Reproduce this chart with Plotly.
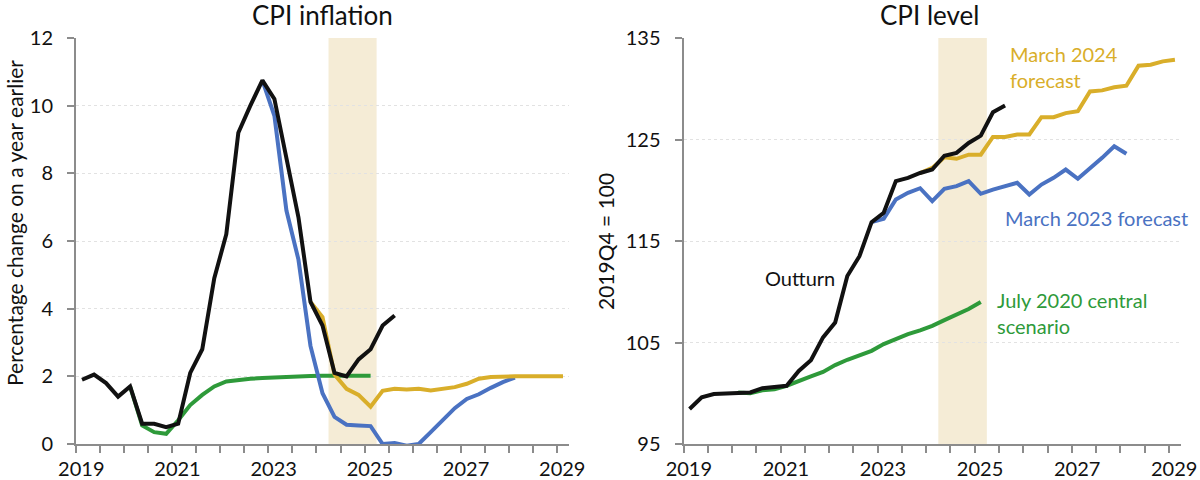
import plotly.graph_objects as go

# ---------------- data ----------------
# quarters run from 2019Q1; each series lists its first quarter and values
outturn_infl_start = "2019Q1"
outturn_infl = [1.9, 2.05, 1.8, 1.4, 1.7, 0.6, 0.6, 0.5, 0.6, 2.1, 2.8, 4.9,
                6.2, 9.2, 10.0, 10.75, 10.2, 8.4, 6.7, 4.2, 3.5, 2.1, 2.0, 2.5,
                2.8, 3.5, 3.8]

jul20_infl_start = "2020Q1"
jul20_infl = [1.7, 0.55, 0.35, 0.3, 0.7, 1.15, 1.45, 1.7, 1.85, 1.9, 1.93, 1.95,
              1.97, 1.98, 2.0, 2.01, 2.02, 2.02, 2.02, 2.02, 2.02]

mar23_infl_start = "2022Q4"
mar23_infl = [10.75, 9.7, 6.9, 5.45, 2.9, 1.5, 0.8, 0.57, 0.55, 0.53, 0.0, 0.03,
              -0.05, 0.0, 0.35, 0.7, 1.06, 1.33, 1.47, 1.66, 1.83, 1.96]

mar24_infl_start = "2023Q4"
mar24_infl = [4.2, 3.75, 2.05, 1.63, 1.45, 1.1, 1.57, 1.63, 1.61, 1.63, 1.58,
              1.63, 1.68, 1.78, 1.93, 1.98, 2.0, 2.0, 2.0, 2.0, 2.0, 2.0]

outturn_lvl_start = "2019Q1"
outturn_lvl = [98.45, 99.6, 99.92, 100.0, 100.08, 100.08, 100.5, 100.64, 100.74,
               102.2, 103.26, 105.5, 106.97, 111.55, 113.5, 116.86, 117.78,
               120.9, 121.22, 121.7, 122.04, 123.4, 123.68, 124.66, 125.38,
               127.68, 128.34]

jul20_lvl_start = "2020Q1"
jul20_lvl = [100.08, 100.0, 100.3, 100.4, 100.74, 101.23, 101.66, 102.1, 102.77,
             103.3, 103.76, 104.18, 104.84, 105.33, 105.82, 106.2, 106.64,
             107.2, 107.7, 108.3, 109.0]

mar23_lvl_start = "2022Q4"
mar23_lvl = [116.86, 117.2, 119.1, 119.75, 120.2, 118.92, 120.14, 120.4, 120.9,
             119.65, 120.07, 120.4, 120.73, 119.58, 120.56, 121.22, 122.04,
             121.13, 122.1, 123.19, 124.33, 123.6]

mar24_lvl_start = "2023Q4"
mar24_lvl = [121.7, 122.2, 123.25, 123.1, 123.5, 123.5, 125.25, 125.25, 125.5,
             125.5, 127.2, 127.2, 127.6, 127.78, 129.74, 129.84, 130.14, 130.3,
             132.27, 132.37, 132.7, 132.86]

year_labels = ["2019", "2021", "2023", "2025", "2027", "2029"]
infl_ticks = [0, 2, 4, 6, 8, 10, 12]
lvl_ticks = [95, 105, 115, 125, 135]
shade_period = ["2024Q2", "2025Q1"]   # shaded quarters (inclusive)

# ---------------- helpers ----------------
def q_to_x(q):
    y, n = q.split("Q")
    return int(y) + (int(n) - 0.5) / 4.0

def q_start(q):
    y, n = q.split("Q")
    return int(y) + (int(n) - 1) / 4.0

def xs(start, values):
    x0 = q_to_x(start)
    return [x0 + i * 0.25 for i in range(len(values))]

W, H = 1200, 480
MT, MB = 38, 36

def px_x(p):
    return p / W

def px_y(p):
    return (H - MB - p) / (H - MT - MB)

BLACK = "#111111"
BLUE = "#4a72c2"
GOLD = "#d9ae2a"
GREEN = "#2e9a3a"
SHADE = "#f5ecd6"
AXIS = "#8c8c8c"
FONT = "Lato"

fig = go.Figure()

series = [
    (jul20_infl_start, jul20_infl, GREEN, "x", "y"),
    (mar23_infl_start, mar23_infl, BLUE, "x", "y"),
    (mar24_infl_start, mar24_infl, GOLD, "x", "y"),
    (outturn_infl_start, outturn_infl, BLACK, "x", "y"),
    (jul20_lvl_start, jul20_lvl, GREEN, "x2", "y2"),
    (mar23_lvl_start, mar23_lvl, BLUE, "x2", "y2"),
    (mar24_lvl_start, mar24_lvl, GOLD, "x2", "y2"),
    (outturn_lvl_start, outturn_lvl, BLACK, "x2", "y2"),
]
for start, vals, col, xa, ya in series:
    fig.add_trace(go.Scatter(x=xs(start, vals), y=vals, mode="lines",
                             line=dict(color=col, width=4), xaxis=xa, yaxis=ya,
                             showlegend=False, hoverinfo="skip", cliponaxis=True))

x_lo, x_hi = 2019.0, 2029.25
half_years = [2019 + 0.5 * i for i in range(21)]
label_pos = [int(l) + 0.11 for l in year_labels]

shade_x0 = q_start(shade_period[0])
shade_x1 = q_start(shade_period[1]) + 0.25
for xr, yr in (("x", "y"), ("x2", "y2")):
    fig.add_shape(type="rect", xref=xr, yref=yr + " domain", x0=shade_x0, x1=shade_x1,
                  y0=0, y1=1, fillcolor=SHADE, line=dict(width=0), layer="below")

xaxis_common = dict(range=[x_lo, x_hi], tickvals=label_pos, ticktext=year_labels,
                    ticks="", showgrid=False, zeroline=False, showline=True,
                    linecolor=AXIS, linewidth=2, automargin=False,
                    tickfont=dict(family=FONT, size=20, color="#111111"),
                    ticklabelstandoff=6,
                    minor=dict(tickvals=half_years, ticks="outside", ticklen=7,
                               tickcolor=AXIS, tickwidth=1.5, showgrid=False))
yaxis_common = dict(showline=True, linecolor=AXIS, linewidth=2, ticks="outside",
                    ticklen=7, tickcolor=AXIS, tickwidth=1.5, showgrid=True,
                    gridcolor="#e2e2e2", griddash="dot", gridwidth=1, zeroline=False,
                    automargin=False,
                    tickfont=dict(family=FONT, size=20, color="#111111"),
                    ticklabelstandoff=10)

fig.update_layout(
    width=W, height=H, plot_bgcolor="white", paper_bgcolor="white",
    margin=dict(l=0, r=0, t=MT, b=MB, autoexpand=False),
    font=dict(family=FONT, color="#111111"),
    xaxis=dict(domain=[px_x(76), px_x(569)], anchor="y", **xaxis_common),
    yaxis=dict(domain=[0, 1], anchor="x", range=[0, 12], tickvals=infl_ticks,
               **yaxis_common),
    xaxis2=dict(domain=[px_x(683.5), px_x(1181)], anchor="y2", **xaxis_common),
    yaxis2=dict(domain=[0, 1], anchor="x2", range=[95, 135], tickvals=lvl_ticks,
                **yaxis_common),
)

titles = [("CPI inflation", 322.5, 15), ("CPI level", 929, 15)]
for txt, px, py in titles:
    fig.add_annotation(text=txt, xref="paper", yref="paper", x=px_x(px), y=px_y(py),
                       yanchor="middle", xanchor="center", showarrow=False,
                       font=dict(family=FONT, size=26, color="#111111"))

fig.add_annotation(text="Percentage change on a year earlier", xref="paper", yref="paper",
                   x=px_x(14), y=px_y(223), textangle=-90, showarrow=False,
                   xanchor="center", yanchor="middle",
                   font=dict(family=FONT, size=21, color="#111111"))
fig.add_annotation(text="2019Q4 = 100", xref="paper", yref="paper",
                   x=px_x(605), y=px_y(242), textangle=-90, showarrow=False,
                   xanchor="center", yanchor="middle",
                   font=dict(family=FONT, size=21, color="#111111"))

labels = [
    ("March 2024<br>forecast", 1008, 67, GOLD),
    ("March 2023 forecast", 1003, 218, BLUE),
    ("July 2020 central<br>scenario", 995, 313, GREEN),
    ("Outturn", 763, 278, BLACK),
]
for txt, px, py, col in labels:
    fig.add_annotation(text=txt, xref="paper", yref="paper", x=px_x(px),
                       y=px_y(py), xanchor="left", yanchor="middle", align="left",
                       showarrow=False,
                       font=dict(family=FONT, size=20, color=col))

fig.write_html("out.html")
